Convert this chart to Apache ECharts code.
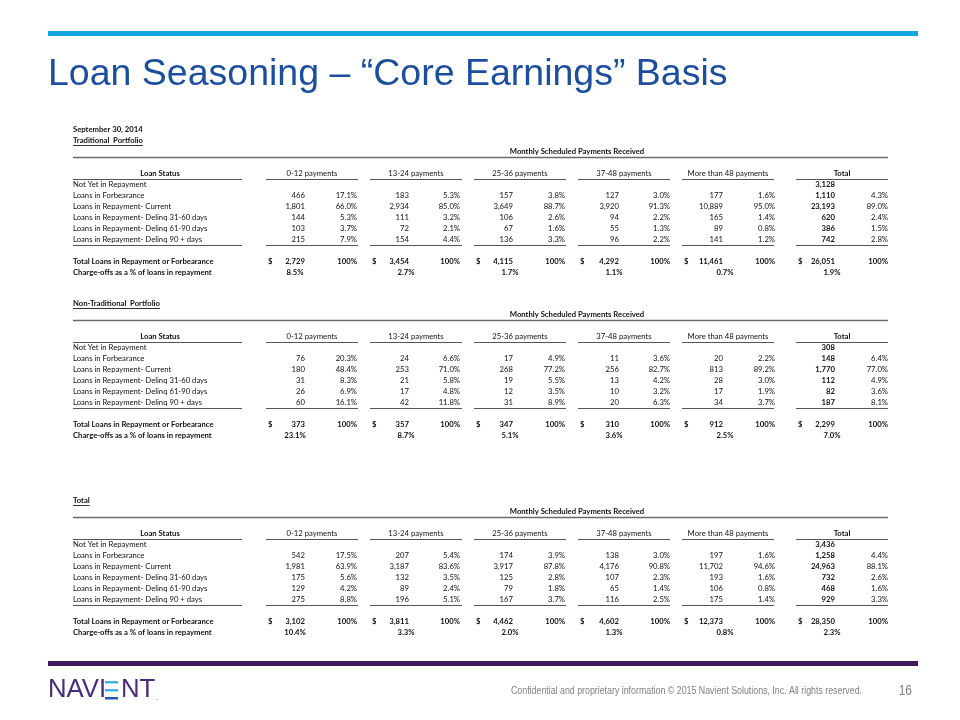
<!DOCTYPE html>
<html><head><meta charset="utf-8">
<script src="https://cdn.jsdelivr.net/npm/echarts@6/dist/echarts.min.js"></script>
<style>html,body{margin:0;padding:0;background:#fff}#c{width:960px;height:720px}</style>
</head><body><div id="c"></div>
<script>
// ---------------- DATA ----------------
const paymentBuckets = ['0-12 payments','13-24 payments','25-36 payments','37-48 payments','More than 48 payments','Total'];
const loanStatuses = ['Not Yet in Repayment','Loans in Forbearance','Loans in Repayment- Current','Loans in Repayment- Delinq 31-60 days','Loans in Repayment- Delinq 61-90 days','Loans in Repayment- Delinq 90 + days'];
const sectionTitles = ['Traditional  Portfolio','Non-Traditional  Portfolio','Total'];

// Traditional
const tradNotYet = 3128;
const tradForbCount = [466,183,157,127,177,1110];
const tradForbPct = [17.1,5.3,3.8,3.0,1.6,4.3];
const tradCurrentCount = [1801,2934,3649,3920,10889,23193];
const tradCurrentPct = [66.0,85.0,88.7,91.3,95.0,89.0];
const trad3160Count = [144,111,106,94,165,620];
const trad3160Pct = [5.3,3.2,2.6,2.2,1.4,2.4];
const trad6190Count = [103,72,67,55,89,386];
const trad6190Pct = [3.7,2.1,1.6,1.3,0.8,1.5];
const trad90Count = [215,154,136,96,141,742];
const trad90Pct = [7.9,4.4,3.3,2.2,1.2,2.8];
const tradTotal = [2729,3454,4115,4292,11461,26051];
const tradChargeOff = [8.5,2.7,1.7,1.1,0.7,1.9];

// Non-Traditional
const nonNotYet = 308;
const nonForbCount = [76,24,17,11,20,148];
const nonForbPct = [20.3,6.6,4.9,3.6,2.2,6.4];
const nonCurrentCount = [180,253,268,256,813,1770];
const nonCurrentPct = [48.4,71.0,77.2,82.7,89.2,77.0];
const non3160Count = [31,21,19,13,28,112];
const non3160Pct = [8.3,5.8,5.5,4.2,3.0,4.9];
const non6190Count = [26,17,12,10,17,82];
const non6190Pct = [6.9,4.8,3.5,3.2,1.9,3.6];
const non90Count = [60,42,31,20,34,187];
const non90Pct = [16.1,11.8,8.9,6.3,3.7,8.1];
const nonTotal = [373,357,347,310,912,2299];
const nonChargeOff = [23.1,8.7,5.1,3.6,2.5,7.0];

// Total
const allNotYet = 3436;
const allForbCount = [542,207,174,138,197,1258];
const allForbPct = [17.5,5.4,3.9,3.0,1.6,4.4];
const allCurrentCount = [1981,3187,3917,4176,11702,24963];
const allCurrentPct = [63.9,83.6,87.8,90.8,94.6,88.1];
const all3160Count = [175,132,125,107,193,732];
const all3160Pct = [5.6,3.5,2.8,2.3,1.6,2.6];
const all6190Count = [129,89,79,65,106,468];
const all6190Pct = [4.2,2.4,1.8,1.4,0.8,1.6];
const all90Count = [275,196,167,116,175,929];
const all90Pct = [8.8,5.1,3.7,2.5,1.4,3.3];
const allTotal = [3102,3811,4462,4602,12373,28350];
const allChargeOff = [10.4,3.3,2.0,1.3,0.8,2.3];

// ---------------- LAYOUT ----------------
const FONT = 'Lato';
const FS = 7.7;
const L = {
  labelX: 73, labelEnd: 242, statusCenter: 160,
  groupStart: [266,370,474,578,682,796],
  groupEnd: [358,462,566,670,774,888],
  numRight: [305,409,513,619,723,835],
  pctRight: [357,460,565,670,775,888],
  chargeCenter: [295,406,510,614,725,832],
  monthlyCenter: 577, ruleEnd: 888,
  headerY: [174,337,534], rowH: 11
};

const fmtN = v => v.toLocaleString('en-US');
const fmtP = v => v.toFixed(1) + '%';
const cv = document.createElement('canvas').getContext('2d');
const measureFont = (t, font) => { cv.font = font; return cv.measureText(t).width; };
const measure = (t, bold) => measureFont(t, (bold ? 'bold ' : '') + FS + 'px ' + FONT);

function buildSection(idx, notYet, rows, total, charge) {
  const cells = [];
  const T = (x, y, text, align, bold) => cells.push({kind:'text', x, y, text, align, bold});
  const Ln = (x1, x2, y, w, c) => cells.push({kind:'line', x:x1, x2, y, w, c});
  if (idx === 0) T(L.labelX, -4, 'September 30, 2014', 'left', true);
  T(L.labelX, -3, sectionTitles[idx], 'left', true);
  Ln(L.labelX, L.labelX + measure(sectionTitles[idx], true), -2.62, 0.8, '#000');
  T(L.monthlyCenter, -2, 'Monthly Scheduled Payments Received', 'center', true);
  Ln(L.labelX, L.ruleEnd, -1.55, 1.4, '#6b6b6b');
  T(L.statusCenter, 0, 'Loan Status', 'center', true);
  Ln(L.labelX, L.labelEnd, 0.42, 1.2, '#555');
  paymentBuckets.forEach((b, i) => {
    const c = (L.groupStart[i] + L.groupEnd[i]) / 2;
    T(c, 0, b, 'center', i === 5);
    Ln(L.groupStart[i], L.groupEnd[i], 0.42, 1.2, '#555');
  });
  loanStatuses.forEach((s, r) => T(L.labelX, r + 1, s, 'left', false));
  T(L.numRight[5], 1, fmtN(notYet), 'right', true);
  rows.forEach((row, r) => {
    row[0].forEach((v, i) => {
      T(L.numRight[i], r + 2, fmtN(v), 'right', i === 5);
      T(L.pctRight[i], r + 2, fmtP(row[1][i]), 'right', false);
    });
  });
  Ln(L.labelX, L.labelEnd, 6.45, 1.2, '#555');
  paymentBuckets.forEach((b, i) => Ln(L.groupStart[i], L.groupEnd[i], 6.45, 1.2, '#555'));
  T(L.labelX, 8, 'Total Loans in Repayment or Forbearance', 'left', true);
  T(L.labelX, 9, 'Charge-offs as a % of loans in repayment', 'left', true);
  total.forEach((v, i) => {
    T(L.groupStart[i] + 2, 8, '$', 'left', true);
    T(L.numRight[i], 8, fmtN(v), 'right', true);
    T(L.pctRight[i], 8, '100%', 'right', true);
    T(L.chargeCenter[i], 9, fmtP(charge[i]), 'center', true);
  });
  return cells;
}

const sections = [
  buildSection(0, tradNotYet, [[tradForbCount,tradForbPct],[tradCurrentCount,tradCurrentPct],[trad3160Count,trad3160Pct],[trad6190Count,trad6190Pct],[trad90Count,trad90Pct]], tradTotal, tradChargeOff),
  buildSection(1, nonNotYet, [[nonForbCount,nonForbPct],[nonCurrentCount,nonCurrentPct],[non3160Count,non3160Pct],[non6190Count,non6190Pct],[non90Count,non90Pct]], nonTotal, nonChargeOff),
  buildSection(2, allNotYet, [[allForbCount,allForbPct],[allCurrentCount,allCurrentPct],[all3160Count,all3160Pct],[all6190Count,all6190Pct],[all90Count,all90Pct]], allTotal, allChargeOff)
];

function renderer(cells) {
  return function (params, api) {
    const c = cells[params.dataIndex];
    const p = api.coord([api.value(0), api.value(1)]);
    if (c.kind === 'line') {
      const p2 = api.coord([c.x2, api.value(1)]);
      return {type:'line', shape:{x1:p[0], y1:Math.round(p[1]) + 0.5, x2:p2[0], y2:Math.round(p[1]) + 0.5},
        style:{stroke:c.c, lineWidth:c.w}};
    }
    return {type:'text', x:p[0], y:p[1], style:{text:c.text, align:c.align, verticalAlign:'middle',
      font:(c.bold ? 'bold ' : '') + FS + 'px ' + FONT, fill:'#111'}};
  };
}

const grids = [], xAxes = [], yAxes = [], series = [];
sections.forEach((cells, s) => {
  const top = L.headerY[s] - 4.5 * L.rowH;
  grids.push({left:0, width:960, top, height:14 * L.rowH});
  xAxes.push({type:'value', gridIndex:s, min:0, max:960, show:false});
  yAxes.push({type:'value', gridIndex:s, min:-4.5, max:9.5, inverse:true, show:false});
  series.push({type:'custom', xAxisIndex:s, yAxisIndex:s, clip:false, silent:true,
    data: cells.map(c => [c.x, c.y]), renderItem: renderer(cells)});
});

const footerText = 'Confidential and proprietary information © 2015 Navient Solutions, Inc. All rights reserved.';
const footerFont = '10px "Liberation Sans"';
const footerScale = 351 / measureFont(footerText, footerFont);
const pageFont = '15px "Liberation Sans"';

const chart = echarts.init(document.getElementById('c'), null, {renderer:'canvas'});
chart.setOption({
  animation:false,
  backgroundColor:'#fff',
  grid:grids, xAxis:xAxes, yAxis:yAxes, series,
  graphic:[
    {type:'rect', shape:{x:48, y:31, width:870, height:5}, style:{fill:'#14A6E0'}},
    {type:'text', x:48, y:75, style:{text:'Loan Seasoning – “Core Earnings” Basis', font:'37.5px "Liberation Sans"', fill:'#1B4F9E', verticalAlign:'middle'}},
    {type:'rect', shape:{x:48, y:661, width:870, height:5}, style:{fill:'#3E1A5C'}},
    {type:'text', x:48, y:690, scaleX:1.03, style:{text:'NAVI', font:'25px "Liberation Sans"', fill:'#4A2A7A', verticalAlign:'middle'}},
    {type:'rect', shape:{x:105, y:681, width:13, height:2.5}, style:{fill:'#3FB3E6'}},
    {type:'rect', shape:{x:105, y:689, width:13, height:2.5}, style:{fill:'#3FB3E6'}},
    {type:'rect', shape:{x:105, y:697, width:13, height:2.5}, style:{fill:'#1F5FA8'}},
    {type:'text', x:121, y:690, scaleX:1.03, style:{text:'NT', font:'25px "Liberation Sans"', fill:'#4A2A7A', verticalAlign:'middle'}},
    {type:'text', x:156, y:698, style:{text:'.', font:'8px "Liberation Sans"', fill:'#4A2A7A', verticalAlign:'middle'}},
    {type:'text', x:862, y:691, scaleX:footerScale, style:{text:footerText, font:footerFont, fill:'#808080', align:'right', verticalAlign:'middle'}},
    {type:'text', x:912, y:691, scaleX:0.8, style:{text:'16', font:pageFont, fill:'#808080', align:'right', verticalAlign:'middle'}}
  ]
});
</script></body></html>
